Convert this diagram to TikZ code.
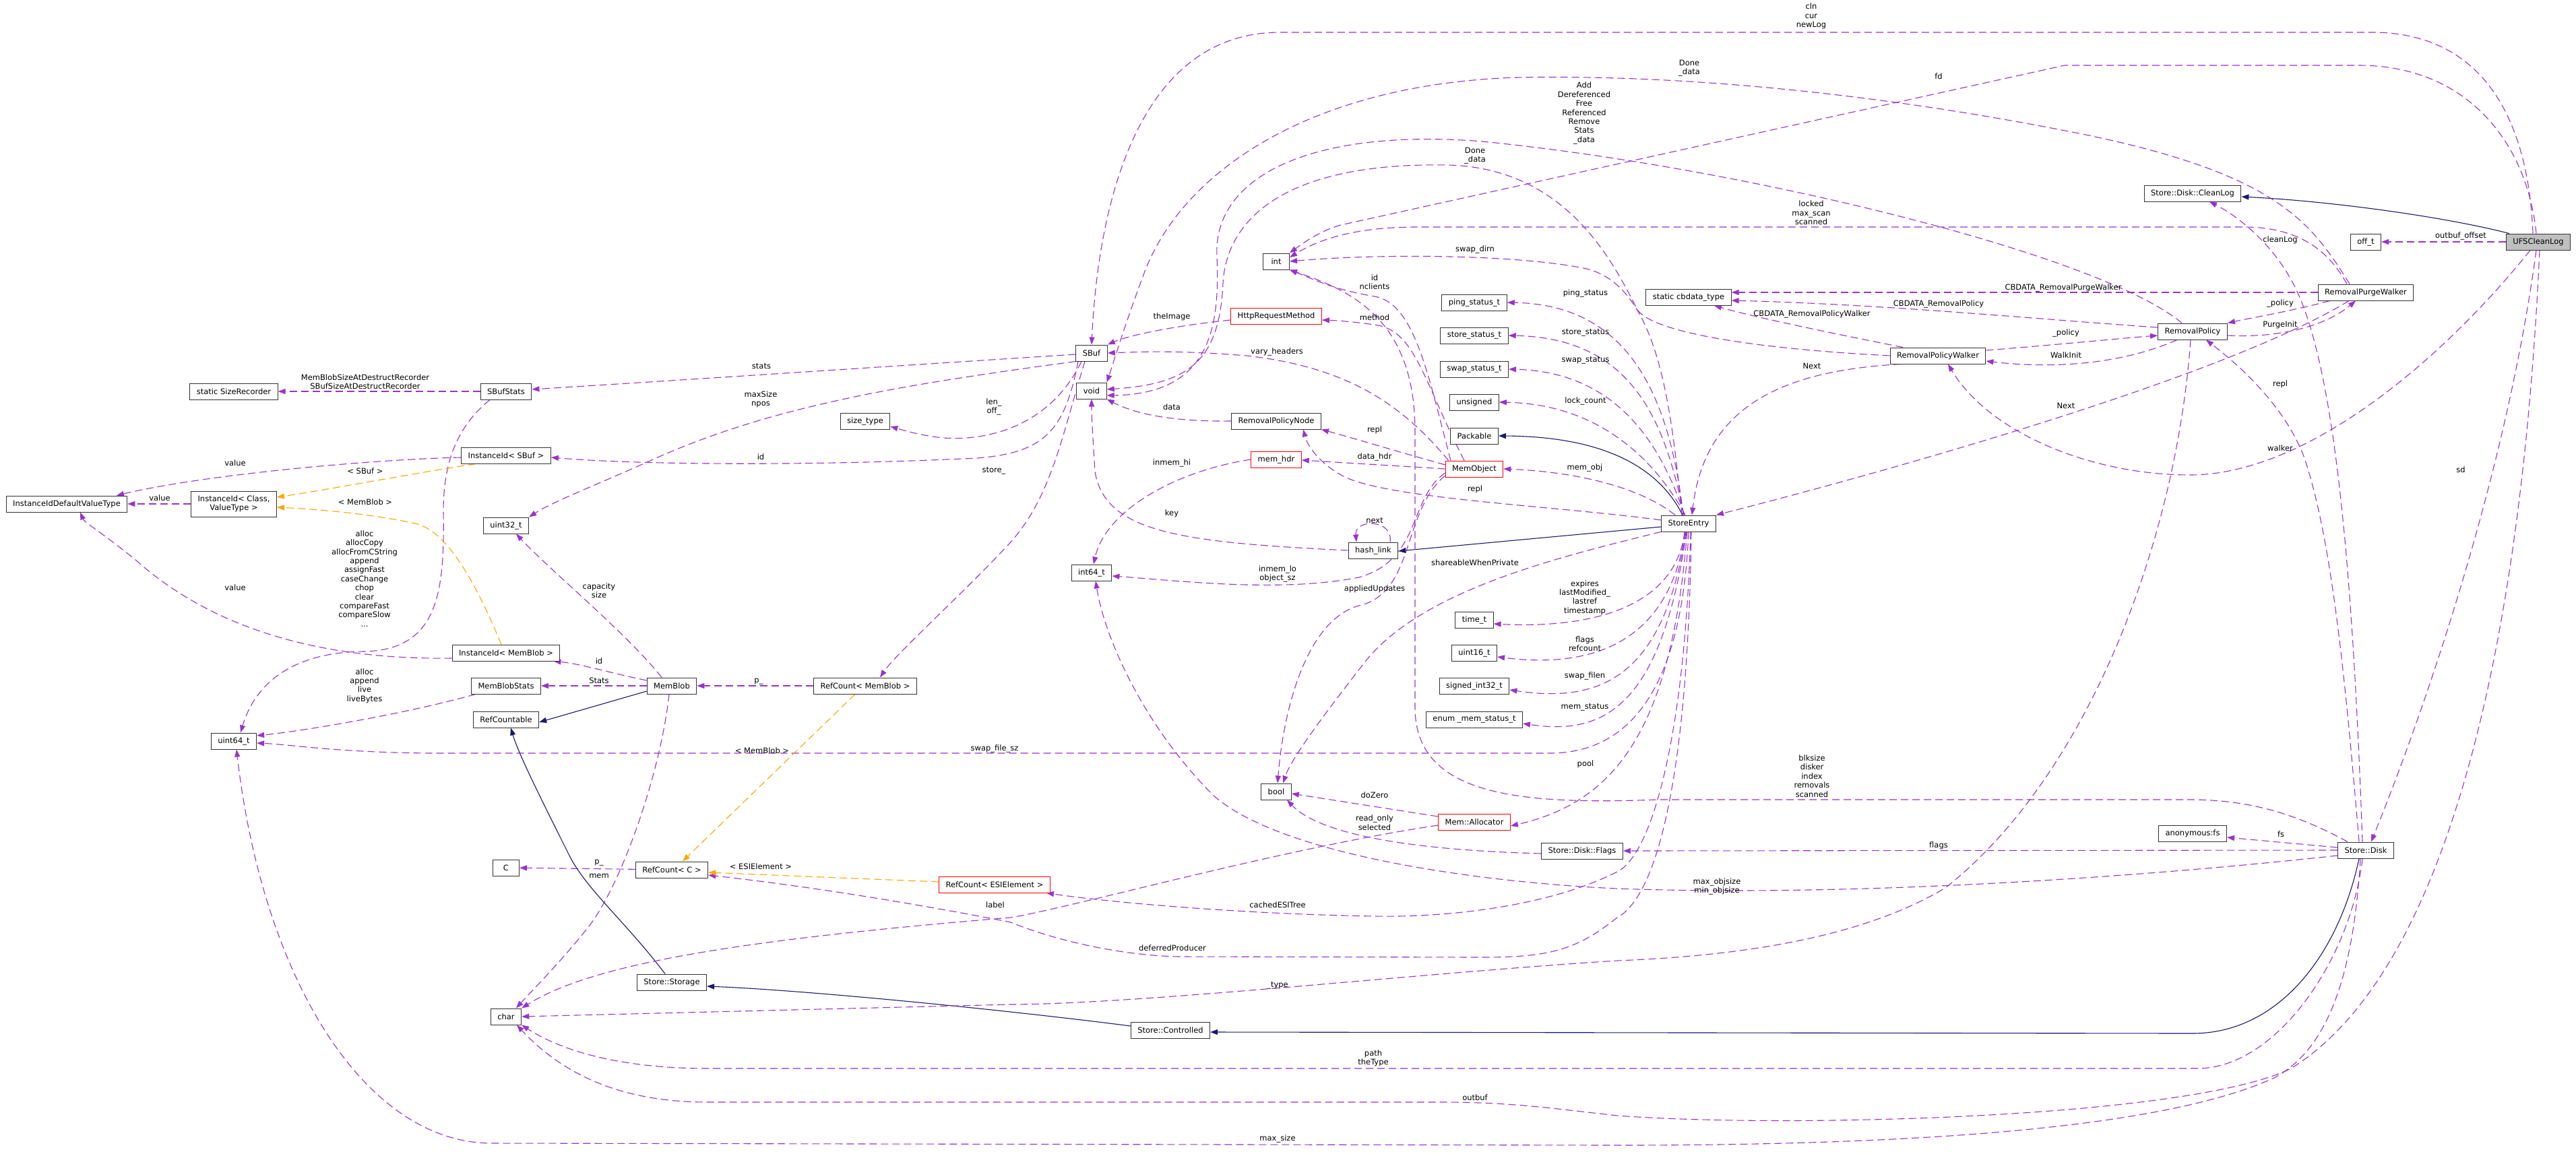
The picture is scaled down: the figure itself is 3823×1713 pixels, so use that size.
\documentclass[tikz,border=0pt]{standalone}
\usepackage{fontspec}
\setmainfont{DejaVu Sans}
\usetikzlibrary{arrows.meta}
\pgfdeclarelayer{bg}
\pgfsetlayers{bg,main}
\definecolor{pur}{HTML}{9A32CD}
\definecolor{orn}{HTML}{FFA500}
\definecolor{nvy}{HTML}{191970}
\definecolor{gry}{HTML}{BFBFBF}
\definecolor{brd}{HTML}{333333}
\begin{document}
\begin{tikzpicture}[x=1pt,y=-1pt,
  every node/.style={font=\fontsize{11.5}{13.4}\selectfont},
  box/.style={draw=brd, line width=1pt, fill=white, minimum height=24pt, minimum width=39pt, inner xsep=10pt, inner ysep=0pt},
  rbox/.style={box, draw=red},
  lbl/.style={inner sep=0pt, align=center},
  mem/.style={draw=pur, line width=1.1pt, dash pattern=on 11pt off 6pt, -{Triangle[length=11pt,width=8pt]}},
  tmpl/.style={mem, draw=orn},
  inh/.style={draw=nvy, line width=1.1pt, -{Triangle[length=11pt,width=8pt]}},
]
\useasboundingbox (0,0) rectangle (3823,1713);
% ---------------- nodes ----------------
\node[box, fill=gry] (ufs) at (3767,359) {UFSCleanLog};
\node[box] (offt) at (3511,359) {off\_t};
\node[box] (cleanlog) at (3254,287) {Store::Disk::CleanLog};
\node[box] (purgew) at (3511,434) {RemovalPurgeWalker};
\node[box] (rpolicy) at (3254,492) {RemovalPolicy};
\node[box] (rpw) at (2876,528) {RemovalPolicyWalker};
\node[box] (cbdata) at (2506,441) {static cbdata\_type};
\node[box] (se) at (2506,777) {StoreEntry};
\node[box] (disk) at (3511,1262) {Store::Disk};
\node[box] (anonfs) at (3254,1237) {anonymous:fs};
\node[box] (flags) at (2348,1263) {Store::Disk::Flags};
\node[box] (int) at (1894,388) {int};
\node[rbox] (httpm) at (1894,469) {HttpRequestMethod};
\node[box] (sbuf) at (1620,524) {SBuf};
\node[box] (void) at (1620,580) {void};
\node[box] (rpn) at (1894,625) {RemovalPolicyNode};
\node[box] (ping) at (2188,449) {ping\_status\_t};
\node[box] (storest) at (2188,498) {store\_status\_t};
\node[box] (swapst) at (2188,548) {swap\_status\_t};
\node[box] (unsig) at (2188,597) {unsigned};
\node[box] (packable) at (2188,647) {Packable};
\node[rbox] (memobj) at (2188,696) {MemObject};
\node[rbox] (memhdr) at (1894,682) {mem\_hdr};
\node[box] (hashlink) at (2038,817) {hash\_link};
\node[box] (int64) at (1620,850) {int64\_t};
\node[box] (timet) at (2188,920) {time\_t};
\node[box] (uint16) at (2188,969) {uint16\_t};
\node[box] (sint32) at (2188,1018) {signed\_int32\_t};
\node[box] (memstat) at (2188,1068) {enum \_mem\_status\_t};
\node[box] (bool) at (1894,1175) {bool};
\node[rbox] (alloc) at (2188,1220) {Mem::Allocator};
\node[box] (storage) at (997,1458) {Store::Storage};
\node[box] (controlled) at (1737,1529) {Store::Controlled};
\node[box] (char) at (751,1509) {char};
\node[box] (refc) at (997,1291) {RefCount< C >};
\node[box] (c) at (751,1288) {C};
\node[rbox] (refesi) at (1476,1313) {RefCount< ESIElement >};
\node[box] (memblob) at (997,1018) {MemBlob};
\node[box] (refmb) at (1284,1018) {RefCount< MemBlob >};
\node[box] (mbstats) at (751,1018) {MemBlobStats};
\node[box] (refcountable) at (751,1068) {RefCountable};
\node[box] (idmb) at (751,969) {InstanceId< MemBlob >};
\node[box] (uint64) at (347,1100) {uint64\_t};
\node[box] (uint32) at (751,780) {uint32\_t};
\node[box] (sizetype) at (1284,625) {size\_type};
\node[box] (idsbuf) at (751,676) {InstanceId< SBuf >};
\node[box] (sbufstats) at (751,581) {SBufStats};
\node[box] (sizerec) at (347,581) {static SizeRecorder};
\node[box, align=center, minimum height=38pt] (idclass) at (347,748) {InstanceId< Class,\\ValueType >};
\node[box] (idvt) at (99,748) {InstanceIdDefaultValueType};
% ---------------- labels ----------------
\node[lbl] (l01) at (2688,24) {cln\\cur\\newLog};
\node[lbl] (l02) at (2877,113) {fd};
\node[lbl] (l03) at (3652,350) {outbuf\_offset};
\node[lbl] (l04) at (3384,665) {walker};
\node[lbl] (l05) at (3652,697) {sd};
\node[lbl] (l06) at (2189,1629) {outbuf};
\node[lbl] (l07) at (3384,450) {\_policy};
\node[lbl] (l08) at (3384,482) {PurgeInit};
\node[lbl] (l09) at (3384,570) {repl};
\node[lbl] (l10) at (3384,356) {cleanLog};
\node[lbl] (l11) at (3062,427) {CBDATA\_RemovalPurgeWalker};
\node[lbl] (l12) at (2877,451) {CBDATA\_RemovalPolicy};
\node[lbl] (l13) at (2689,466) {CBDATA\_RemovalPolicyWalker};
\node[lbl] (l14) at (3066,494) {\_policy};
\node[lbl] (l15) at (3066,527) {WalkInit};
\node[lbl] (l16) at (2689,543) {Next};
\node[lbl] (l17) at (3066,602) {Next};
\node[lbl] (l18) at (2351,168) {Add\\Dereferenced\\Free\\Referenced\\Remove\\Stats\\\_data};
\node[lbl] (l19) at (2507,101) {Done\\\_data};
\node[lbl] (l20) at (2189,231) {Done\\\_data};
\node[lbl] (l21) at (2688,316) {locked\\max\_scan\\scanned};
\node[lbl] (l22) at (2189,370) {swap\_dirn};
\node[lbl] (l23) at (2353,435) {ping\_status};
\node[lbl] (l24) at (2353,494) {store\_status};
\node[lbl] (l25) at (2353,535) {swap\_status};
\node[lbl] (l26) at (2353,595) {lock\_count};
\node[lbl] (l27) at (2352,694) {mem\_obj};
\node[lbl] (l28) at (2189,726) {repl};
\node[lbl] (l29) at (2189,835) {shareableWhenPrivate};
\node[lbl] (l30) at (2352,887) {expires\\lastModified\_\\lastref\\timestamp};
\node[lbl] (l31) at (2352,956) {flags\\refcount};
\node[lbl] (l32) at (2352,1003) {swap\_filen};
\node[lbl] (l33) at (2352,1050) {mem\_status};
\node[lbl] (l34) at (2353,1134) {pool};
\node[lbl] (l35) at (1476,1111) {swap\_file\_sz};
\node[lbl] (l36) at (1896,1343) {cachedESITree};
\node[lbl] (l37) at (1740,1407) {deferredProducer};
\node[lbl] (l38) at (2040,471) {method};
\node[lbl] (l39) at (2040,419) {id\\nclients};
\node[lbl] (l40) at (2040,638) {repl};
\node[lbl] (l41) at (2040,678) {data\_hdr};
\node[lbl] (l42) at (1895,522) {vary\_headers};
\node[lbl] (l43) at (1896,852) {inmem\_lo\\object\_sz};
\node[lbl] (l44) at (2040,874) {appliedUpdates};
\node[lbl] (l45) at (1739,687) {inmem\_hi};
\node[lbl] (l46) at (1739,762) {key};
\node[lbl] (l47) at (2040,773) {next};
\node[lbl] (l48) at (1739,604) {data};
\node[lbl] (l49) at (1739,470) {theImage};
\node[lbl] (l50) at (1130,544) {stats};
\node[lbl] (l51) at (1129,593) {maxSize\\npos};
\node[lbl] (l52) at (1475,604) {len\_\\off\_};
\node[lbl] (l53) at (1129,678) {id};
\node[lbl] (l54) at (1475,699) {store\_};
\node[lbl] (l55) at (542,567) {MemBlobSizeAtDestructRecorder\\SBufSizeAtDestructRecorder};
\node[lbl] (l56) at (541,859) {alloc\\allocCopy\\allocFromCString\\append\\assignFast\\caseChange\\chop\\clear\\compareFast\\compareSlow\\...};
\node[lbl] (l57) at (541,1018) {alloc\\append\\live\\liveBytes};
\node[lbl] (l58) at (349,687) {value};
\node[lbl] (l59) at (542,699) {< SBuf >};
\node[lbl] (l60) at (542,745) {< MemBlob >};
\node[lbl] (l61) at (237,739) {value};
\node[lbl] (l62) at (349,872) {value};
\node[lbl] (l63) at (889,981) {id};
\node[lbl] (l64) at (889,1010) {Stats};
\node[lbl] (l65) at (889,877) {capacity\\size};
\node[lbl] (l66) at (889,1300) {mem};
\node[lbl] (l67) at (1126,1012) {p\_};
\node[lbl] (l68) at (1131,1114) {< MemBlob >};
\node[lbl] (l69) at (889,1281) {p\_};
\node[lbl] (l70) at (1129,1286) {< ESIElement >};
\node[lbl] (l71) at (2877,1255) {flags};
\node[lbl] (l72) at (3385,1238) {fs};
\node[lbl] (l73) at (2548,1316) {max\_objsize\\min\_objsize};
\node[lbl] (l74) at (2689,1152) {blksize\\disker\\index\\removals\\scanned};
\node[lbl] (l75) at (2040,1221) {read\_only\\selected};
\node[lbl] (l76) at (2040,1180) {doZero};
\node[lbl] (l77) at (1477,1343) {label};
\node[lbl] (l78) at (1896,1463) {\_type};
\node[lbl] (l79) at (2038,1571) {path\\theType};
\node[lbl] (l80) at (1896,1690) {max\_size};
% ---------------- edges ----------------
\begin{pgfonlayer}{bg}
\fill[white] (0,0) rectangle (3823,1713);
% UFSCleanLog
\draw[mem] ([xshift=-8pt]ufs.north) .. controls (3752,170) and (3680,48) .. (3520,48) -- (1900,48) .. controls (1690,48) and (1630,300) .. (sbuf.north);
\draw[mem] ([xshift=-3pt]ufs.north) .. controls (3750,210) and (3660,97) .. (3500,97) -- (3064,97) -- (1990,334) .. controls (1960,342) and (1935,360) .. (int.north east);
\draw[mem] (ufs) -- (offt);
\draw[inh] ([xshift=5pt]ufs.north west) .. controls (3620,320) and (3450,298) .. ([yshift=-5pt]cleanlog.east);
\draw[mem] ([xshift=-12pt]ufs.south) .. controls (3620,540) and (3420,705) .. (3250,705) .. controls (3100,705) and (2950,640) .. ([xshift=15pt]rpw.south);
\draw[mem] ([xshift=-3pt]ufs.south) .. controls (3720,700) and (3600,1050) .. ([xshift=8pt]disk.north);
\draw[mem] ([xshift=2pt]ufs.south) .. controls (3740,1000) and (3620,1450) .. (3400,1586) .. controls (3250,1660) and (2650,1675) .. (2400,1656) .. controls (2300,1645) and (2250,1637) .. (2150,1636) -- (1050,1636) .. controls (930,1636) and (840,1600) .. ([xshift=16pt]char.south);
% Removal policy family
\draw[mem] ([xshift=18pt]purgew.south west) .. controls (3400,462) and (3340,472) .. (rpolicy.north east);
\draw[mem] ([yshift=-6pt]rpolicy.east) .. controls (3380,502) and (3450,485) .. ([xshift=-15pt]purgew.south);
\draw[mem] ([xshift=-10pt]disk.north) .. controls (3480,1000) and (3460,800) .. (3420,680) .. controls (3390,600) and (3320,540) .. ([xshift=20pt]rpolicy.south);
\draw[mem] ([xshift=-5pt]disk.north) .. controls (3490,800) and (3460,520) .. (3400,415) .. controls (3370,360) and (3320,320) .. ([xshift=25pt]cleanlog.south);
\draw[mem] (purgew.west) -- (cbdata.east |- purgew.west);
\draw[mem] ([yshift=6pt]rpolicy.west) .. controls (3000,472) and (2800,452) .. ([yshift=-5pt]cbdata.east);
\draw[mem] ([xshift=-52pt]rpw.north) .. controls (2720,495) and (2600,470) .. ([xshift=38pt]cbdata.south);
\draw[mem] ([yshift=8pt]rpw.east) .. controls (3050,512) and (3150,502) .. ([yshift=-6pt]rpolicy.west);
\draw[mem] ([xshift=29pt]rpolicy.south west) .. controls (3150,540) and (3050,548) .. ([yshift=-8pt]rpw.east);
\draw[mem] ([xshift=-55pt]rpw.south) .. controls (2650,550) and (2530,600) .. ([xshift=5pt]se.north);
\draw[mem] ([xshift=-25pt]purgew.south) .. controls (3300,560) and (2800,700) .. (se.north east);
\draw[mem] ([xshift=-16pt]rpolicy.north) .. controls (3120,380) and (2600,250) .. (2200,210) .. controls (1950,190) and (1800,260) .. (1806,380) .. controls (1810,480) and (1800,585) .. ([yshift=-7pt]void.east);
\draw[mem] ([xshift=-24pt]purgew.north) .. controls (3430,330) and (3380,260) .. (3100,201) .. controls (2800,140) and (2500,110) .. (2250,115) .. controls (1950,125) and (1760,250) .. (1700,400) .. controls (1670,480) and (1655,530) .. (void.north east);
\draw[mem] (rpw.west) .. controls (2650,520) and (2460,500) .. (2430,460) .. controls (2390,380) and (2320,250) .. (2150,245) .. controls (1900,240) and (1820,330) .. (1815,420) .. controls (1810,540) and (1760,570) .. ([yshift=2pt]void.east);
\draw[mem] ([xshift=-28pt]purgew.north) .. controls (3460,380) and (3420,337) .. (3330,337) -- (2103,337) .. controls (2000,337) and (1950,360) .. ([yshift=6pt]int.east);
% StoreEntry
\draw[mem] ([xshift=-10pt]se.north) .. controls (2480,600) and (2460,420) .. (2350,398) .. controls (2250,378) and (2050,376) .. (int.east);
\draw[mem] ([xshift=-8pt]se.north) .. controls (2475,560) and (2400,452) .. (ping.east);
\draw[mem] ([xshift=-7pt]se.north) .. controls (2470,620) and (2420,502) .. (storest.east);
\draw[mem] ([xshift=-6pt]se.north) .. controls (2465,660) and (2400,552) .. (swapst.east);
\draw[mem] ([xshift=-5pt]se.north) .. controls (2460,690) and (2380,600) .. (unsig.east);
\draw[inh] ([xshift=-9pt]se.north) .. controls (2465,700) and (2390,648) .. (packable.east);
\draw[mem] ([xshift=-20pt]se.north) .. controls (2430,720) and (2330,700) .. (memobj.east);
\draw[inh] ([yshift=-5pt]se.west) -- ([yshift=-1pt]hashlink.east);
\draw[mem] ([yshift=5pt]se.west) .. controls (2300,750) and (2050,740) .. (1990,705) .. controls (1955,685) and (1940,660) .. ([xshift=40pt]rpn.south);
\draw[mem] (se.south west) .. controls (2300,830) and (2100,880) .. (2020,990) .. controls (1950,1080) and (1915,1130) .. ([xshift=10pt]bool.north);
\draw[mem] ([xshift=-6pt]se.south) .. controls (2490,880) and (2400,935) .. ([yshift=-6pt]timet.east);
\draw[mem] ([xshift=-5pt]se.south) .. controls (2480,940) and (2380,995) .. ([yshift=-6pt]uint16.east);
\draw[mem] ([xshift=-4pt]se.south) .. controls (2470,1000) and (2380,1045) .. ([yshift=-6pt]sint32.east);
\draw[mem] ([xshift=-3pt]se.south) .. controls (2465,1050) and (2380,1092) .. ([yshift=-6pt]memstat.east);
\draw[mem] ([xshift=-2pt]se.south) .. controls (2480,1080) and (2400,1190) .. ([yshift=-6pt]alloc.east);
\draw[mem] (se.south) .. controls (2495,1050) and (2400,1118) .. (2300,1118) -- (640,1118) .. controls (500,1117) and (430,1105) .. ([yshift=-3pt]uint64.east);
\draw[mem] ([xshift=3pt]se.south) .. controls (2500,1100) and (2450,1270) .. (2400,1294) .. controls (2300,1345) and (2150,1362) .. (2040,1360) .. controls (1850,1357) and (1650,1340) .. ([xshift=-6pt]refesi.south east);
\draw[mem] ([xshift=4pt]se.south) .. controls (2505,1150) and (2460,1330) .. (2400,1362) .. controls (2340,1410) and (2300,1421) .. (2200,1421) -- (1750,1420) .. controls (1650,1418) and (1550,1390) .. (1500,1369) .. controls (1300,1330) and (1150,1310) .. ([yshift=-8pt]refc.east);
% MemObject
\draw[mem] ([xshift=-15pt]memobj.north) .. controls (2110,560) and (2100,490) .. (2040,482) .. controls (2010,478) and (1990,476) .. ([yshift=-6pt]httpm.east);
\draw[mem] ([xshift=-35pt]memobj.north) .. controls (2120,560) and (2100,450) .. (2040,440) .. controls (1980,430) and (1950,415) .. (int.south east);
\draw[mem] ([yshift=6pt]memobj.west) .. controls (2080,672) and (2000,648) .. (rpn.south east);
\draw[mem] (memobj.west) -- ([yshift=-1pt]memhdr.east);
\draw[mem] ([xshift=5pt]memobj.north west) .. controls (2080,600) and (2000,545) .. (1850,528) .. controls (1750,520) and (1700,522) .. (sbuf.east);
\draw[mem] ([yshift=-6pt]memobj.west) .. controls (2090,740) and (2110,830) .. (2017,857) .. controls (1900,880) and (1750,862) .. ([yshift=-5pt]int64.east);
\draw[mem] ([yshift=-10pt]memobj.west) .. controls (2080,760) and (2100,880) .. (2017,899) .. controls (1940,920) and (1905,1050) .. ([xshift=2pt]bool.north);
% misc middle
\draw[mem] (memhdr.west) .. controls (1740,700) and (1640,760) .. ([xshift=3pt]int64.north);
\draw[mem] (hashlink.west) .. controls (1750,805) and (1640,790) .. (1625,700) .. controls (1622,650) and (1620,620) .. (void.south);
\draw[mem] ([xshift=25pt]hashlink.north) .. controls (2068,770) and (2010,770) .. ([xshift=-25pt]hashlink.north);
\draw[mem] (rpn.west) .. controls (1730,626) and (1680,612) .. (void.south east);
\draw[mem] ([yshift=-6pt]httpm.west) .. controls (1730,485) and (1670,500) .. (sbuf.north east);
% SBuf
\draw[mem] ([yshift=-2pt]sbuf.west) .. controls (1300,545) and (1000,565) .. ([yshift=3pt]sbufstats.east);
\draw[mem] (sbuf.south west) .. controls (1350,570) and (1150,600) .. (967,683) .. controls (880,722) and (820,745) .. (uint32.north east);
\draw[mem] ([xshift=-15pt]sbuf.south) .. controls (1560,630) and (1470,655) .. (1400,650) .. controls (1370,647) and (1345,640) .. ([yshift=-8pt]sizetype.east);
\draw[mem] ([xshift=-20pt]sbuf.south) .. controls (1580,640) and (1550,672) .. (1450,680) .. controls (1200,692) and (950,690) .. ([yshift=-3pt]idsbuf.east);
\draw[mem] ([xshift=-10pt]sbuf.south) .. controls (1575,650) and (1560,740) .. (1496,809) .. controls (1420,890) and (1330,970) .. ([xshift=22pt]refmb.north);
% left part
\draw[mem] (sbufstats) -- (sizerec);
\draw[mem] ([xshift=-24pt]sbufstats.south) .. controls (670,640) and (658,700) .. (658,760) .. controls (660,880) and (650,965) .. (540,967) .. controls (440,968) and (380,1010) .. ([xshift=10pt]uint64.north);
\draw[mem] ([xshift=-45pt]mbstats.south) .. controls (600,1060) and (450,1085) .. ([yshift=8pt]uint64.east);
\draw[mem] ([yshift=-3pt]idsbuf.west) .. controls (550,682) and (300,705) .. ([xshift=74pt]idvt.north);
\draw[tmpl] ([xshift=-45pt]idsbuf.south) .. controls (600,705) and (480,728) .. ([yshift=10pt]idclass.east);
\draw[tmpl] ([xshift=-7pt]idmb.north) .. controls (700,850) and (660,790) .. (620,778) .. controls (540,760) and (450,755) .. ([yshift=-5pt]idclass.east);
\draw[mem] (idclass) -- (idvt);
\draw[mem] ([yshift=-8pt]idmb.west) .. controls (450,980) and (300,920) .. (200,830) .. controls (150,790) and (125,775) .. ([xshift=20pt]idvt.south);
\draw[mem] ([yshift=8pt]memblob.west) .. controls (910,1000) and (860,985) .. ([xshift=-10pt]idmb.south east);
\draw[mem] (memblob) -- (mbstats);
\draw[inh] ([yshift=-8pt]memblob.west) -- ([yshift=-4pt]refcountable.east);
\draw[mem] ([xshift=-15pt]memblob.north) .. controls (930,940) and (820,850) .. ([xshift=15pt]uint32.south);
\draw[mem] ([xshift=-4pt]memblob.south) .. controls (980,1150) and (920,1320) .. (870,1380) .. controls (830,1430) and (790,1470) .. ([xshift=15pt]char.north);
\draw[mem] (refmb) -- (memblob);
\draw[tmpl] ([xshift=-15pt]refmb.south) -- ([xshift=16pt]refc.north);
\draw[mem] (refc) -- (c);
\draw[tmpl] ([yshift=4pt]refesi.west) -- ([yshift=-4pt]refc.east);
\draw[inh] ([xshift=-10pt]storage.north) .. controls (930,1370) and (870,1320) .. (845,1270) .. controls (800,1180) and (770,1120) .. ([xshift=7pt]refcountable.south);
\draw[inh] ([yshift=6pt]controlled.west) .. controls (1500,1500) and (1200,1470) .. ([yshift=-6pt]storage.east);
% Store::Disk
\draw[inh] ([xshift=-10pt]disk.south) .. controls (3470,1420) and (3380,1534) .. (3254,1534) -- ([yshift=-3pt]controlled.east);
\draw[mem] (disk.west) -- (flags.east);
\draw[mem] ([yshift=4pt]disk.west) -- ([yshift=-6pt]anonfs.east);
\draw[mem] ([yshift=-8pt]disk.west) .. controls (3100,1310) and (2700,1330) .. (2400,1319) .. controls (2200,1310) and (1900,1270) .. (1800,1180) .. controls (1700,1080) and (1640,950) .. ([xshift=6pt]int64.south);
\draw[mem] ([xshift=-27pt]disk.north) .. controls (3420,1215) and (3350,1187) .. (3250,1187) -- (2460,1187) .. controls (2250,1195) and (2100,1180) .. (2100,1050) -- (2100,640) .. controls (2100,470) and (2000,430) .. (int.south east);
\draw[mem] ([yshift=-4pt]flags.west) .. controls (2100,1262) and (1960,1240) .. ([xshift=16pt]bool.south);
\draw[mem] ([yshift=8pt]alloc.west) -- ([yshift=-3pt]bool.east);
\draw[mem] ([yshift=-5pt]alloc.west) .. controls (1900,1260) and (1600,1345) .. (1500,1362) .. controls (1100,1395) and (880,1430) .. (char.north east);
\draw[mem] ([xshift=-3pt]rpolicy.south) .. controls (3230,800) and (3100,1150) .. (2887,1318) .. controls (2750,1400) and (2550,1420) .. (2400,1426) .. controls (2100,1445) and (1700,1490) .. (1500,1491) -- (char.east);
\draw[mem] ([xshift=-5pt]disk.south) .. controls (3490,1420) and (3380,1586) .. (3261,1586) -- (1050,1586) .. controls (950,1586) and (850,1570) .. (char.south east);
\draw[mem] ([xshift=-8pt]disk.south) .. controls (3490,1500) and (3430,1570) .. (3375,1600) .. controls (3200,1680) and (2800,1700) .. (2400,1700) -- (730,1697) .. controls (540,1697) and (390,1450) .. ([xshift=4pt]uint64.south);
\end{pgfonlayer}
\end{tikzpicture}
\end{document}
